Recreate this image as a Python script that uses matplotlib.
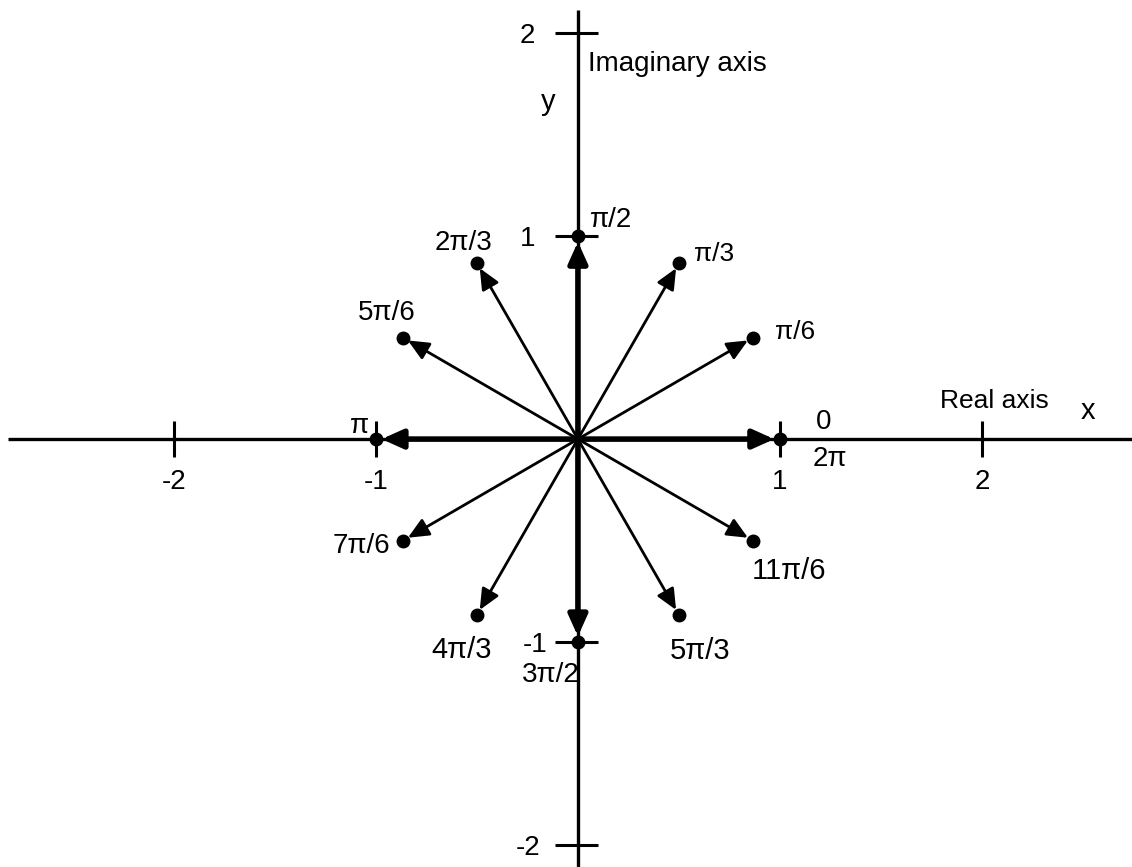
import numpy as np
import matplotlib
matplotlib.use("Agg")
import matplotlib.pyplot as plt

plt.rcParams['font.family'] = ['Liberation Sans Narrow', 'Liberation Sans', 'DejaVu Sans']

# angles in multiples of pi/6 and their labels
k_vals = np.arange(12)
angle_labels = ["0", "π/6", "π/3", "π/2", "2π/3", "5π/6", "π", "7π/6", "4π/3", "3π/2", "5π/3", "11π/6"]
x_ticks = [-2, -1, 1, 2]
x_tick_labels = ["-2", "-1", "1", "2"]
y_ticks = [-2, -1, 1, 2]
y_tick_labels = ["-2", "-1", "1", "2"]

# label offsets from the dot (pixels, right / down)
label_off = [(44, -17), (42, -6), (35, -9), (33, -16), (-13, -20), (-16, -25),
             (-16, -13), (-42, 5), (-15, 35), (-27, 33), (21, 36), (36, 30)]
label_size = [20, 19, 19, 20, 20, 20, 20, 20, 21, 20, 21, 21]
ytl_off = [-38, -30, -43, -43]

fig = plt.figure(figsize=(11.32, 8.67), dpi=100)
ax = fig.add_axes([0, 0, 1, 1])
ax.set_xlim(-2.861, 2.743)
ax.set_ylim(-2.108, 2.163)
ax.axis("off")

# axes
ax.plot([-2.82, 2.743], [0, 0], color="k", lw=2.4, solid_capstyle="butt")
ax.plot([0, 0], [-2.108, 2.113], color="k", lw=2.4, solid_capstyle="butt")

# ticks
for xt, lab in zip(x_ticks, x_tick_labels):
    ax.plot([xt, xt], [-0.089, 0.089], color="k", lw=2.2, solid_capstyle="butt")
    ax.annotate(lab, xy=(xt, 0), xytext=(0, -43), textcoords="offset pixels",
                ha="center", va="center", fontsize=20)
for yt, lab, off in zip(y_ticks, y_tick_labels, ytl_off):
    ax.plot([-0.115, 0.1], [yt, yt], color="k", lw=2.2, solid_capstyle="butt")
    ax.annotate(lab, xy=(0, yt), xytext=(off, -3), textcoords="offset pixels",
                ha="right", va="center", fontsize=20)

# unit vectors
ang = k_vals * np.pi / 6
cx = np.cos(ang)
cy = np.sin(ang)
for k in k_vals:
    lw = 4.0 if k % 3 == 0 else 2.0
    ax.annotate("", xy=(0.972 * cx[k], 0.972 * cy[k]), xytext=(0, 0),
                arrowprops=dict(arrowstyle="-|>,head_length=0.6,head_width=0.27",
                                mutation_scale=21, lw=lw, color="k",
                                shrinkA=0, shrinkB=0))
ax.plot(cx, cy, "o", color="k", ms=9)

for k in k_vals:
    dx, dy = label_off[k]
    ax.annotate(angle_labels[k], xy=(cx[k], cy[k]), xytext=(dx, -dy),
                textcoords="offset pixels", ha="center", va="center",
                fontsize=label_size[k])
ax.annotate("2π", xy=(cx[0], cy[0]), xytext=(50, -20), textcoords="offset pixels",
            ha="center", va="center", fontsize=20)

# axis names
ax.text(0.05, 1.85, "Imaginary axis", ha="left", va="center", fontsize=20)
ax.text(-0.149, 1.66, "y", ha="center", va="center", fontsize=21)
ax.text(2.06, 0.187, "Real axis", ha="center", va="center", fontsize=19)
ax.text(2.525, 0.138, "x", ha="center", va="center", fontsize=21)

plt.savefig("out.png", dpi=100)
